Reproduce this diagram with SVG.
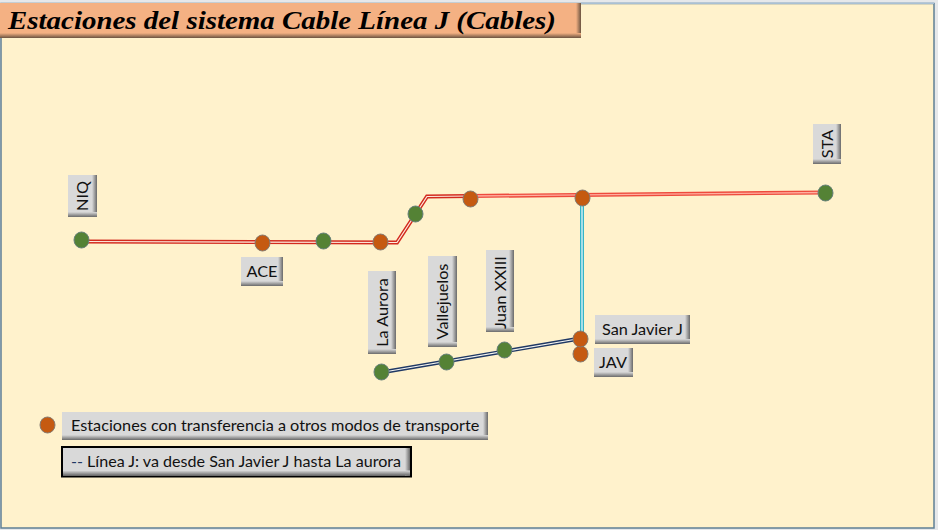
<svg xmlns="http://www.w3.org/2000/svg" width="938" height="530" viewBox="0 0 938 530">
<style>
.lbl{font-family:"Lato","Carlito","Noto Sans",sans-serif;font-size:16.25px;fill:#111}
.box{fill:#d9d9d9}
.r{fill:url(#gr)}
.b{fill:url(#gb)}
.g{fill:#548235;stroke:#66807a;stroke-width:1}
.o{fill:#c55a11;stroke:#857a70;stroke-width:1}
.line{fill:none;stroke-linejoin:miter}
</style>
<defs>
<linearGradient id="gr" x1="0" x2="1" y1="0" y2="0"><stop offset="0" stop-color="#d9d9d9"/><stop offset="1" stop-color="#6a6a6a"/></linearGradient>
<linearGradient id="gb" x1="0" x2="0" y1="0" y2="1"><stop offset="0" stop-color="#d9d9d9"/><stop offset="1" stop-color="#6a6a6a"/></linearGradient>
<linearGradient id="tr" x1="0" x2="1" y1="0" y2="0"><stop offset="0" stop-color="#f4b183"/><stop offset="1" stop-color="#6b5340"/></linearGradient>
<linearGradient id="tb" x1="0" x2="0" y1="0" y2="1"><stop offset="0" stop-color="#f4b183"/><stop offset="1" stop-color="#6b5340"/></linearGradient>
</defs>
<rect width="938" height="530" fill="#e6e8ea"/>
<rect x="1" y="3.500" width="933" height="524.500" fill="#fff2cc" stroke="#5f7f95" stroke-width="1.500"/>
<rect x="581" y="2.500" width="353" height="1.500" fill="#a9c0d4"/>
<g id="title">
<rect x="0" y="3" width="581" height="35" fill="#f4b183"/>
<rect x="576" y="3" width="5" height="35" fill="url(#tr)"/>
<rect x="0" y="33" width="581" height="5" fill="url(#tb)"/>
<text x="8" y="29" textLength="548" lengthAdjust="spacingAndGlyphs" font-family="'Liberation Serif',serif" font-style="italic" font-weight="bold" font-size="25" fill="#000">Estaciones del sistema Cable Línea J (Cables)</text>
</g>
<g id="connectors">
<polyline class="line" points="81,241.500 397,242.500 427,196.500 470,196" stroke="#d32a1e" stroke-width="4"/>
<polyline class="line" points="470,196 825,192.500" stroke="#ee4a3c" stroke-width="4"/>
<polyline class="line" points="81,241.500 397,242.500 427,196.500 470,196" stroke="#fdeee0" stroke-width="1.200"/>
<polyline class="line" points="470,196 825,192.500" stroke="#ffb0a0" stroke-width="1.400"/>
<line class="line" x1="582" y1="198" x2="582" y2="336" stroke="#35b4c8" stroke-width="4"/>
<line class="line" x1="582" y1="198" x2="582" y2="336" stroke="#f2fbfb" stroke-width="1.200"/>
<line class="line" x1="381" y1="372.500" x2="580" y2="338.500" stroke="#1f3864" stroke-width="4"/>
<line class="line" x1="381" y1="372.500" x2="580" y2="338.500" stroke="#f4f4f0" stroke-width="1.200"/>
</g>
<g id="NIQ"><ellipse class="g" cx="81.500" cy="240" rx="7.500" ry="8"/><rect class="box" x="68" y="175" width="29" height="42"/><rect class="r" x="92" y="175" width="5" height="42"/><rect class="b" x="68" y="212" width="29" height="5"/><text class="lbl" transform="translate(88 196) rotate(-90)" text-anchor="middle">NIQ</text></g>
<g id="ACE"><ellipse class="o" cx="262.500" cy="243" rx="7.500" ry="8"/><rect class="box" x="241" y="257" width="42" height="29"/><rect class="r" x="278" y="257" width="5" height="29"/><rect class="b" x="241" y="281" width="42" height="5"/><text class="lbl" x="262" y="277" text-anchor="middle">ACE</text></g>
<g id="station-323"><ellipse class="g" cx="323.500" cy="241" rx="7.500" ry="8"/></g>
<g id="station-380"><ellipse class="o" cx="380.500" cy="242" rx="7.500" ry="8"/></g>
<g id="station-415"><ellipse class="g" cx="415.500" cy="214" rx="7.500" ry="8"/></g>
<g id="station-470"><ellipse class="o" cx="470.500" cy="199" rx="7.500" ry="8"/></g>
<g id="station-582"><ellipse class="o" cx="582.500" cy="198" rx="7.500" ry="8"/></g>
<g id="STA"><ellipse class="g" cx="825.500" cy="193" rx="7.500" ry="8"/><rect class="box" x="813" y="124" width="28" height="40"/><rect class="r" x="836" y="124" width="5" height="40"/><rect class="b" x="813" y="159" width="28" height="5"/><text class="lbl" transform="translate(833 144) rotate(-90)" text-anchor="middle">STA</text></g>
<g id="LaAurora"><ellipse class="g" cx="381.500" cy="372" rx="7.500" ry="8"/><rect class="box" x="368" y="271" width="28" height="83"/><rect class="r" x="391" y="271" width="5" height="83"/><rect class="b" x="368" y="349" width="28" height="5"/><text class="lbl" transform="translate(388 312.500) rotate(-90)" text-anchor="middle">La Aurora</text></g>
<g id="Vallejuelos"><ellipse class="g" cx="446.500" cy="362" rx="7.500" ry="8"/><rect class="box" x="428" y="256" width="29" height="91"/><rect class="r" x="452" y="256" width="5" height="91"/><rect class="b" x="428" y="342" width="29" height="5"/><text class="lbl" transform="translate(448 301.500) rotate(-90)" text-anchor="middle">Vallejuelos</text></g>
<g id="JuanXXIII"><ellipse class="g" cx="504.500" cy="350" rx="7.500" ry="8"/><rect class="box" x="486" y="250" width="28" height="82"/><rect class="r" x="509" y="250" width="5" height="82"/><rect class="b" x="486" y="327" width="28" height="5"/><text class="lbl" x="-329" y="506" transform="rotate(-90)" textLength="73" lengthAdjust="spacingAndGlyphs">Juan XXIII</text></g>
<g id="JAV"><ellipse class="o" cx="580.500" cy="354" rx="7.500" ry="8"/><rect class="box" x="594" y="348" width="39" height="29"/><rect class="r" x="628" y="348" width="5" height="29"/><rect class="b" x="594" y="372" width="39" height="5"/><text class="lbl" x="613" y="368" text-anchor="middle">JAV</text></g>
<g id="SanJavierJ"><ellipse class="o" cx="580.500" cy="339" rx="7.500" ry="8"/><rect class="box" x="595" y="315" width="95" height="29"/><rect class="r" x="685" y="315" width="5" height="29"/><rect class="b" x="595" y="339" width="95" height="5"/><text class="lbl" x="602" y="335">San Javier J</text></g>
<g id="legend-transfer"><ellipse class="o" cx="47.500" cy="425" rx="7.500" ry="8"/><rect class="box" x="62" y="412" width="426" height="28"/><rect class="r" x="483" y="412" width="5" height="28"/><rect class="b" x="62" y="435" width="426" height="5"/><text class="lbl" x="71" y="431">Estaciones con transferencia a otros modos de transporte</text></g>
<g id="legend-line"><rect class="box" x="62" y="447" width="349" height="29.500" stroke="#000" stroke-width="2"/><rect class="r" x="405" y="448" width="5" height="27.500"/><rect class="b" x="63" y="470.500" width="347" height="5"/><text class="lbl" x="71" y="467" textLength="330" lengthAdjust="spacingAndGlyphs"><tspan fill="#1f3864">--</tspan> Línea J: va desde San Javier J hasta La aurora</text></g>
</svg>
